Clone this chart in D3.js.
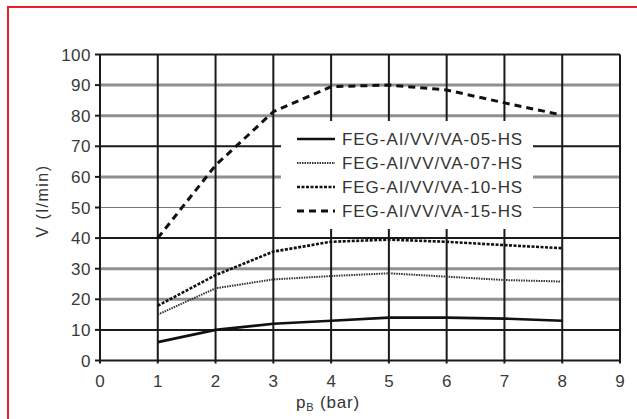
<!DOCTYPE html>
<html><head><meta charset="utf-8">
<script src="https://cdn.jsdelivr.net/npm/d3@7"></script>
<style>body{margin:0;background:#fff}svg{display:block}</style>
</head><body>
<svg id="c" width="637" height="419"></svg>
<script>
const xValues = [1, 2, 3, 4, 5, 6, 7, 8];
const seriesNames = ["FEG-AI/VV/VA-05-HS", "FEG-AI/VV/VA-07-HS", "FEG-AI/VV/VA-10-HS", "FEG-AI/VV/VA-15-HS"];
const s05 = [6, 10, 12, 13, 14, 14, 13.7, 13];
const s07 = [15, 23.6, 26.5, 27.6, 28.5, 27.4, 26.3, 25.8];
const s10 = [17.9, 27.9, 35.6, 38.8, 39.5, 38.8, 37.7, 36.7];
const s15 = [40, 63.8, 81.3, 89.5, 90, 88.4, 84.2, 80.2];
const xTicks = [0, 1, 2, 3, 4, 5, 6, 7, 8, 9];
const yTicks = [0, 10, 20, 30, 40, 50, 60, 70, 80, 90, 100];
const blackY = [0, 10, 40, 70, 100];
const grayY = [20, 30, 60, 80, 90];
const thinY = [50];

const svg = d3.select("#c");
const x = d3.scaleLinear().domain([0, 9]).range([100, 620]);
const y = d3.scaleLinear().domain([0, 100]).range([360.5, 54.5]);
const font = "'Liberation Sans', Arial, sans-serif";

// red frame
svg.append("rect").attr("x", 8).attr("y", 7).attr("width", 700).attr("height", 500)
  .attr("fill", "none").attr("stroke", "#e8202a").attr("stroke-width", 2);

const g = svg.append("g");
// horizontal grid
g.selectAll(".hg").data(grayY).join("line")
  .attr("x1", x(0)).attr("x2", x(9)).attr("y1", d => y(d)).attr("y2", d => y(d))
  .attr("stroke", "#8f8f8f").attr("stroke-width", 3);
g.selectAll(".ht").data(thinY).join("line")
  .attr("x1", x(0)).attr("x2", x(9)).attr("y1", d => y(d)).attr("y2", d => y(d))
  .attr("stroke", "#777").attr("stroke-width", 1.2);
g.selectAll(".hb").data(blackY).join("line")
  .attr("x1", x(0)).attr("x2", x(9)).attr("y1", d => y(d)).attr("y2", d => y(d))
  .attr("stroke", "#1a1a1a").attr("stroke-width", 2);
// vertical grid
g.selectAll(".vg").data(xTicks).join("line")
  .attr("x1", d => x(d)).attr("x2", d => x(d)).attr("y1", y(100)).attr("y2", y(0) + 3)
  .attr("stroke", "#1a1a1a").attr("stroke-width", 2);
// y ticks
g.selectAll(".yt").data(yTicks).join("line")
  .attr("x1", x(0) - 5).attr("x2", x(0)).attr("y1", d => y(d)).attr("y2", d => y(d))
  .attr("stroke", "#1a1a1a").attr("stroke-width", 2);

// curves
const line = d3.line().x((d, i) => x(xValues[i])).y(d => y(d));
const styles = [
  {data: s05, dash: null, w: 2.6, c: "#111"},
  {data: s07, dash: "1.5,1", w: 2, c: "#333"},
  {data: s10, dash: "3,1.5", w: 2.6, c: "#111"},
  {data: s15, dash: "7,5", w: 3, c: "#111"}
];
styles.forEach(s => {
  svg.append("path").attr("d", line(s.data)).attr("fill", "none")
    .attr("stroke", s.c).attr("stroke-width", s.w)
    .attr("stroke-dasharray", s.dash);
});

// legend
const lg = svg.append("g");
lg.append("rect").attr("x", 281).attr("y", 121).attr("width", 252).attr("height", 108).attr("fill", "#fff");
const rowsY = [139, 163, 187, 211];
seriesNames.forEach((n, i) => {
  const s = styles[i];
  lg.append("line").attr("x1", 297).attr("x2", 335).attr("y1", rowsY[i]).attr("y2", rowsY[i])
    .attr("stroke", s.c).attr("stroke-width", s.w).attr("stroke-dasharray", s.dash);
  lg.append("text").attr("x", 342).attr("y", rowsY[i] + 6).text(n)
    .attr("font-family", font).attr("font-size", 17).attr("letter-spacing", 0.95).attr("fill", "#333");
});

// tick labels
svg.selectAll(".xl").data(xTicks).join("text")
  .attr("x", d => x(d)).attr("y", 387).attr("text-anchor", "middle").text(d => d)
  .attr("font-family", font).attr("font-size", 17).attr("fill", "#3a3a3a");
svg.selectAll(".yl").data(yTicks).join("text")
  .attr("x", 91).attr("y", d => y(d) + 6).attr("text-anchor", "end").text(d => d)
  .attr("font-family", font).attr("font-size", 17).attr("fill", "#3a3a3a").attr("letter-spacing", 0.5);

// axis titles
const xt = svg.append("text").attr("x", 328).attr("y", 408).attr("text-anchor", "middle")
  .attr("font-family", font).attr("font-size", 17).attr("fill", "#333").attr("letter-spacing", 0.8);
xt.append("tspan").text("p");
xt.append("tspan").text("B").attr("font-size", 11).attr("dy", 3);
xt.append("tspan").text(" (bar)").attr("dy", -3);

svg.append("text").attr("transform", "translate(48,201) rotate(-90)").attr("text-anchor", "middle")
  .attr("font-family", font).attr("font-size", 16).attr("letter-spacing", 1.5).attr("fill", "#333")
  .text("V (l/min)");
</script>
</body></html>
